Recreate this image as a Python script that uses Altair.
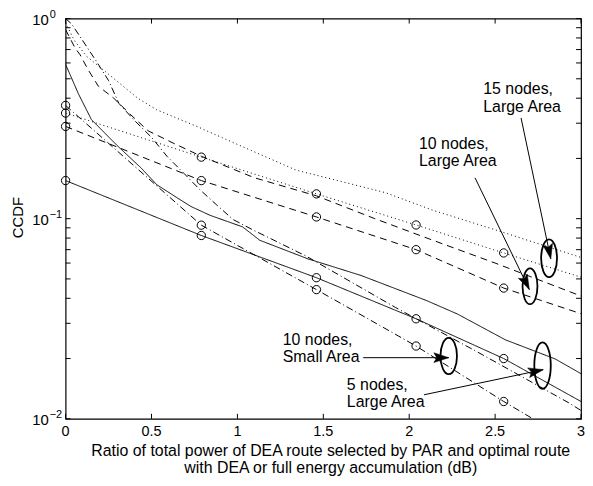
import math
import altair as alt
import pandas as pd

W, H = 519, 403
FONT = "Liberation Sans"

# ---------------- data ----------------
marker_x = [0.0, 0.79, 1.46, 2.04, 2.55]
end_x = 3.0

# curves drawn with circle markers (values at marker_x, then value at x = 3)
m5L_y = [0.155, 0.0824, 0.0507, 0.0316, 0.0200]
m5L_end = 0.0122
m10S_y = [0.368, 0.0928, 0.0442, 0.0231, 0.0122]
m10S_end = 0.0072
m10L_y = [0.289, 0.155, 0.102, 0.070, 0.045]
m10L_end = 0.0335
m15L_y = [0.337, 0.203, 0.133, 0.093, 0.0674]
m15L_end = 0.051

# curves drawn without markers
f5L_x = [0, 0.075, 0.15, 0.3, 0.44, 0.53, 0.65, 0.73, 0.84, 1.03, 1.13, 1.41, 1.72, 2.1, 2.28, 2.56, 2.85, 3.0]
f5L_y = [0.59, 0.42, 0.313, 0.232, 0.179, 0.148, 0.127, 0.115, 0.104, 0.091, 0.078, 0.063, 0.052, 0.039, 0.0334, 0.0248, 0.0199, 0.0168]

f10S_x = [0, 0.035, 0.18, 0.25, 0.31, 0.4, 0.5, 0.59, 0.69, 0.78, 0.88, 0.975, 1.1, 1.2, 1.4, 1.92, 2.4, 2.93, 3.0]
f10S_y = [1.0, 0.94, 0.61, 0.49, 0.377, 0.31, 0.255, 0.205, 0.168, 0.14, 0.117, 0.099, 0.087, 0.079, 0.065, 0.036, 0.0215, 0.012, 0.011]

f10L_x = [0, 0.056, 0.084, 0.13, 0.19, 0.28, 0.38, 0.48, 0.62, 0.79, 1.1, 1.46, 1.8, 2.12, 2.5, 2.97, 3.0]
f10L_y = [0.88, 0.71, 0.66, 0.557, 0.46, 0.40, 0.33, 0.275, 0.24, 0.205, 0.16, 0.13, 0.10, 0.079, 0.06, 0.042, 0.041]

f15L_x = [0, 0.05, 0.12, 0.25, 0.42, 0.53, 0.76, 1.0, 1.34, 1.86, 2.14, 2.5, 3.0]
f15L_y = [0.95, 0.78, 0.65, 0.527, 0.40, 0.35, 0.29, 0.235, 0.175, 0.135, 0.11, 0.088, 0.064]

# annotations
note_text = ["15 nodes,", "Large Area", "10 nodes,", "Large Area",
             "10 nodes,", "Small Area", "5 nodes,", "Large Area"]
note_x = [2.431, 2.431, 2.057, 2.057, 1.264, 1.264, 1.637, 1.637]
note_y = [0.4217, 0.343, 0.2236, 0.1823, 0.02347, 0.01928, 0.01393, 0.01143]

arrow_x1 = [2.651, 2.383, 1.732, 2.086]
arrow_y1 = [0.3187, 0.160, 0.0202, 0.01318]
arrow_x2 = [2.824, 2.699, 2.230, 2.780]
arrow_y2 = [0.063, 0.0442, 0.0202, 0.0176]

ell_x = [2.814, 2.703, 2.230, 2.776]
ell_y = [0.0634, 0.0459, 0.0206, 0.01844]
ell_rx = [8.0, 7.5, 8.3, 8.3]
ell_ry = [19.0, 18.0, 18.3, 23.3]

x_ticks = [0, 0.5, 1, 1.5, 2, 2.5, 3]
x_tick_labels = ["0", "0.5", "1", "1.5", "2", "2.5", "3"]
y_ticks = [m * d for d in (0.01, 0.1) for m in range(1, 10)] + [1.0]
y_label_vals = [1.0, 0.1, 0.01]
y_label_exp = ["0", "\u22121", "\u22122"]

x_title = ["Ratio of total power of DEA route selected by PAR and optimal route",
           "with DEA or full energy accumulation (dB)"]
y_title = "CCDF"

# ---------------- scales ----------------
xs = alt.Scale(domain=[0, 3], nice=False, zero=False)
ys = alt.Scale(type="log", domain=[0.01, 1], nice=False)


def px_x(v):
    return v * W / 3.0


def px_y(v):
    return -math.log10(v) * H / 2.0


def XE(f="x"):
    return alt.X(f"{f}:Q", scale=xs, axis=None)


def YE(f="y"):
    return alt.Y(f"{f}:Q", scale=ys, axis=None)


def line_layer(xv, yv, dash):
    df = pd.DataFrame({"x": xv, "y": yv})
    return alt.Chart(df).mark_line(
        color="black", strokeWidth=1, strokeDash=dash, clip=True
    ).encode(x=XE(), y=YE(), order="x:Q")


def marker_layer(yv):
    df = pd.DataFrame({"x": marker_x, "y": yv})
    return alt.Chart(df).mark_point(
        shape="circle", size=70, filled=False, stroke="black", strokeWidth=1, opacity=1
    ).encode(x=XE(), y=YE())


SOLID = [1, 0]
DASH = [7, 5]
DOT = [1, 3]
DASHDOT = [7, 3, 1, 3]

layers = []

# inward ticks
yt = pd.DataFrame({"v": y_ticks})
xt = pd.DataFrame({"v": x_ticks, "t": x_tick_labels})
layers.append(alt.Chart(yt).mark_rule(color="black", strokeWidth=1).encode(
    y=YE("v"), x=alt.value(0), x2=alt.value(5)))
layers.append(alt.Chart(yt).mark_rule(color="black", strokeWidth=1).encode(
    y=YE("v"), x=alt.value(W - 5), x2=alt.value(W)))
layers.append(alt.Chart(xt).mark_rule(color="black", strokeWidth=1).encode(
    x=XE("v"), y=alt.value(H - 5), y2=alt.value(H)))
layers.append(alt.Chart(xt).mark_rule(color="black", strokeWidth=1).encode(
    x=XE("v"), y=alt.value(0), y2=alt.value(5)))

# x tick labels
layers.append(alt.Chart(xt).mark_text(
    align="center", baseline="top", fontSize=14.5, font=FONT, color="black"
).encode(x=XE("v"), y=alt.value(H + 6), text="t:N"))

# y tick labels 10^k
yl = pd.DataFrame({"v": y_label_vals, "b": ["10"] * 3, "e": y_label_exp})
layers.append(alt.Chart(yl).mark_text(
    align="right", baseline="middle", fontSize=15, font=FONT, color="black", dy=1
).encode(y=YE("v"), x=alt.value(-17), text="b:N"))
layers.append(alt.Chart(yl).mark_text(
    align="left", baseline="middle", fontSize=11, font=FONT, color="black", dy=-4
).encode(y=YE("v"), x=alt.value(-16), text="e:N"))

# axis titles
xtd = pd.DataFrame({"t": x_title, "k": [0, 1]})
layers.append(alt.Chart(xtd).transform_filter("datum.k == 0").mark_text(
    align="center", baseline="alphabetic", fontSize=16, font=FONT, color="black"
).encode(x=alt.value(267), y=alt.value(H + 37), text="t:N"))
layers.append(alt.Chart(xtd).transform_filter("datum.k == 1").mark_text(
    align="center", baseline="alphabetic", fontSize=16, font=FONT, color="black"
).encode(x=alt.value(267), y=alt.value(H + 55), text="t:N"))
ytd = pd.DataFrame({"t": [y_title]})
layers.append(alt.Chart(ytd).mark_text(
    align="center", baseline="middle", fontSize=15, font=FONT, color="black", angle=270
).encode(x=alt.value(-48), y=alt.value(H / 2 - 1), text="t:N"))

# curves without markers
layers.append(line_layer(f5L_x, f5L_y, SOLID))
layers.append(line_layer(f10S_x, f10S_y, DASHDOT))
layers.append(line_layer(f10L_x, f10L_y, DASH))
layers.append(line_layer(f15L_x, f15L_y, DOT))

# curves with markers
layers.append(line_layer(marker_x + [end_x], m5L_y + [m5L_end], SOLID))
layers.append(line_layer(marker_x + [end_x], m10S_y + [m10S_end], DASHDOT))
layers.append(line_layer(marker_x + [end_x], m10L_y + [m10L_end], DASH))
layers.append(line_layer(marker_x + [end_x], m15L_y + [m15L_end], DOT))
for yv in (m5L_y, m10S_y, m10L_y, m15L_y):
    layers.append(marker_layer(yv))

# annotation text
notes = pd.DataFrame({"t": note_text, "x": note_x, "y": note_y})
layers.append(alt.Chart(notes).mark_text(
    align="left", baseline="alphabetic", fontSize=16, font=FONT, color="black"
).encode(x=XE(), y=YE(), text="t:N"))

# arrows
arr = pd.DataFrame({"x": arrow_x1, "y": arrow_y1, "x2": arrow_x2, "y2": arrow_y2})
layers.append(alt.Chart(arr).mark_rule(color="black", strokeWidth=1).encode(
    x=XE(), y=YE(), x2="x2:Q", y2="y2:Q"))

angles = []
for a, b, c, d in zip(arrow_x1, arrow_y1, arrow_x2, arrow_y2):
    dx = px_x(c) - px_x(a)
    dy = px_y(d) - px_y(b)
    angles.append((math.degrees(math.atan2(dx, -dy)) + 360.0) % 360.0)
heads = pd.DataFrame({"x": arrow_x2, "y": arrow_y2, "ang": angles})
HEAD = "M0,0L0.33,1L0,0.8L-0.33,1Z"
layers.append(alt.Chart(heads).mark_point(
    shape=HEAD, size=900, filled=True, fill="black", stroke="black",
    strokeWidth=0.5, opacity=1
).encode(x=XE(), y=YE(), angle=alt.Angle("ang:Q", scale=None)))

# ellipses
shapes, sizes = [], []
for rx, ry in zip(ell_rx, ell_ry):
    r = rx / ry
    shapes.append(f"M{-r:.3f},0A{r:.3f},1 0 1,1 {r:.3f},0A{r:.3f},1 0 1,1 {-r:.3f},0Z")
    sizes.append((2 * ry) ** 2)
ell = pd.DataFrame({"x": ell_x, "y": ell_y, "shape": shapes, "size": sizes})
layers.append(alt.Chart(ell).mark_point(
    filled=False, stroke="black", strokeWidth=1.8, opacity=1
).encode(
    x=XE(), y=YE(),
    shape=alt.Shape("shape:N", scale=None),
    size=alt.Size("size:Q", scale=None),
))

chart = alt.layer(*layers).properties(
    width=W, height=H,
    padding={"left": 58, "top": 9, "right": 4, "bottom": 58},
    autosize=alt.AutoSizeParams(type="none"),
).configure(font=FONT).configure_view(stroke="black", strokeWidth=1.2)

chart.save("out.html", embed_options={"renderer": "svg", "actions": False})
